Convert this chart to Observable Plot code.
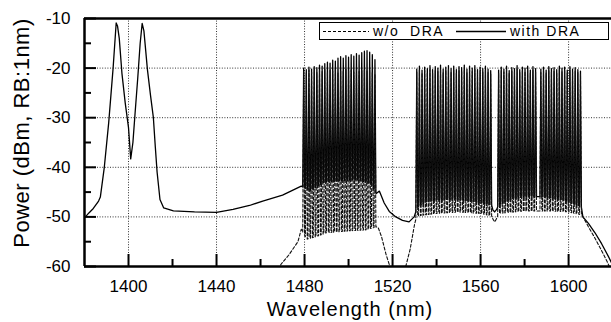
<!DOCTYPE html>
<html>
<head>
<meta charset="utf-8">
<script src="https://cdn.jsdelivr.net/npm/d3@7"></script>
<script src="https://cdn.jsdelivr.net/npm/@observablehq/plot@0.6"></script>
<style>
  body { margin: 0; background: #fff; }
  #wrap { position: relative; width: 611px; height: 322px; font-family: "Liberation Sans", Arial, sans-serif; color: #000; overflow: hidden; }
  #wrap > svg { position: absolute; left: 0; top: 0; }
  .ytitle { position: absolute; left: 22px; top: 133px; transform: translate(-50%, -50%) rotate(-90deg); font-size: 22px; letter-spacing: 0.5px; white-space: nowrap; }
  .xtitle { position: absolute; left: 350px; top: 309px; transform: translate(-50%, -50%); font-size: 20px; letter-spacing: 1px; white-space: nowrap; }
  .legend { position: absolute; left: 319px; top: 22px; width: 288px; height: 16px; border: 1.3px solid #000; background: #fff; font-size: 14px; }
  .legend .it { position: absolute; top: 0; line-height: 16px; letter-spacing: 1.5px; white-space: pre; }
  .legend svg { position: absolute; top: 7px; }
</style>
</head>
<body>
<div id="wrap"></div>
<script>
// ---------- data ----------
const xTicksMajor = [1400, 1440, 1480, 1520, 1560, 1600];
const xTicksMinor = [1420, 1460, 1500, 1540, 1580];
const yTicksMajor = [-10, -20, -30, -40, -50, -60];
const yTicksMinor = [-15, -25, -35, -45, -55];
const xGrid = [1400, 1440, 1480, 1520, 1560, 1600];
const yGrid = [-20, -30, -40, -50];

// "with DRA" trace between channels (pumps, floor)
const withNm = [1380, 1382, 1384, 1386.4, 1387.2, 1389, 1391, 1393, 1394.4, 1395, 1395.8, 1397, 1398.5, 1400, 1401, 1402, 1403, 1404.2, 1405.3, 1406.2, 1407, 1408.6, 1410, 1411.3, 1412.2, 1413, 1414.3, 1416, 1420.4, 1430, 1440, 1447.5, 1455, 1461, 1470, 1478.5,
  1482.5, 1489, 1496.5, 1504, 1510, 1512.6,
  1514, 1516.2, 1518.5, 1521.5, 1524.5, 1527.5, 1529.8,
  1531.3, 1535, 1540, 1548, 1556, 1565,
  1565.6, 1566.4, 1567.3,
  1568.2, 1574, 1582, 1590, 1598, 1605.8,
  1606.5, 1609, 1612, 1615, 1618, 1621];
const withDb = [-50.2, -49.2, -48.3, -46.8, -46, -40, -31, -20, -10.9, -11.5, -14, -21, -27, -32, -38.3, -35, -29, -22, -15, -11, -12.5, -20.3, -25.5, -30, -36, -41, -46.5, -48.2, -48.8, -49, -49.1, -48.5, -47.7, -46.8, -45.6, -43.8,
  -44.7, -43, -42.7, -42.5, -43.3, -45.3,
  -44.8, -47.2, -48.9, -50, -50.7, -51, -50,
  -48, -47, -46.6, -46.4, -46.8, -47.6,
  -48.6, -49, -48.5,
  -47.6, -46.4, -45.8, -46, -46.6, -48,
  -50, -51.3, -53.2, -55.4, -57.9, -60.6];

// "w/o DRA" trace between channels
const woNm = [1467, 1469.4, 1473, 1477, 1478.5,
  1481, 1485, 1490, 1500, 1508, 1512.6,
  1513.5, 1515, 1517, 1519, 1520.5, 1524.5, 1526, 1528, 1530,
  1531, 1540, 1550, 1560, 1565,
  1565.8, 1566.5, 1567.4,
  1568.2, 1580, 1592, 1600, 1605.8,
  1606.8, 1609, 1612, 1615, 1617.5, 1619.5];
const woDb = [-61.5, -59.5, -57.6, -55, -52.5,
  -54.5, -54, -53.2, -52.8, -52.6, -52,
  -52.2, -54, -57.5, -60.3, -62, -62, -60, -56.5, -51.5,
  -49.8, -49.3, -49, -49.3, -49.8,
  -50.6, -51, -50.2,
  -49.3, -48.8, -48.8, -49, -49.6,
  -50.2, -52, -54.3, -56.8, -59, -61];

// WDM channel centres (nm)
const chS = [1479.6, 1480.8, 1482.0, 1483.2, 1484.4, 1485.6, 1486.8, 1488.0, 1489.2, 1490.4, 1491.6, 1492.8, 1494.0, 1495.2, 1496.4, 1497.6, 1498.8, 1500.0, 1501.2, 1502.4, 1503.6, 1504.8, 1506.0, 1507.2, 1508.4, 1509.6, 1510.8, 1512.0];
const chC = [1531.0, 1532.2, 1533.4, 1534.6, 1535.8, 1537.0, 1538.2, 1539.4, 1540.6, 1541.8, 1543.0, 1544.2, 1545.4, 1546.6, 1547.8, 1549.0, 1550.2, 1551.4, 1552.6, 1553.8, 1555.0, 1556.2, 1557.4, 1558.6, 1559.8, 1561.0, 1562.2, 1563.4, 1564.6];
const chL = [1568.2, 1569.4, 1570.6, 1571.8, 1573.0, 1574.2, 1575.4, 1576.6, 1577.8, 1579.0, 1580.2, 1581.4, 1582.6, 1583.8, 1585.0, 1587.4, 1588.6, 1589.8, 1591.0, 1592.2, 1593.4, 1594.6, 1595.8, 1597.0, 1598.2, 1599.4, 1600.6, 1601.8, 1603.0, 1604.2, 1605.4];

// channel peak powers (dBm)
const pkWithS = [-20, -20.3, -19.8, -20.2, -19.7, -19.9, -19.4, -19.6, -19.1, -18.8, -19.0, -18.4, -18.6, -18.0, -17.7, -18.0, -17.5, -17.8, -17.3, -17.6, -17.1, -17.4, -16.9, -16.6, -16.5, -16.8, -17.3, -18.3];
const pkWoS   = [-20.6, -21, -20.4, -20.8, -20.3, -20.9, -20.5, -20.7, -20.2, -20.8, -20.4, -20.6, -20.3, -20.9, -20.5, -20.7, -20.2, -20.6, -20.4, -20.8, -20.3, -20.7, -20.5, -20.4, -20.6, -20.3, -20.8, -21.2];
const pkWithC = [-20.2, -19.6, -20.4, -19.8, -20.1, -19.5, -20.3, -19.7, -20.0, -19.4, -20.2, -19.8, -19.5, -20.1, -19.6, -20.3, -19.7, -19.9, -19.4, -20.2, -19.6, -20.0, -19.5, -20.3, -19.8, -20.1, -19.6, -20.2, -20.5];
const pkWoC   = [-20.8, -20.4, -21, -20.5, -20.9, -20.3, -21, -20.5, -20.7, -20.2, -20.9, -20.4, -20.3, -20.8, -20.4, -21, -20.5, -20.6, -20.2, -20.9, -20.4, -20.7, -20.3, -21, -20.5, -20.8, -20.4, -20.9, -21.2];
const pkWithL = [-20.4, -19.8, -20.2, -19.6, -20.5, -19.9, -20.1, -19.5, -20.3, -19.8, -20.0, -19.6, -20.4, -19.7, -20.1, -20.2, -19.8, -20.4, -19.7, -20.1, -19.9, -20.3, -19.6, -20.0, -19.8, -20.4, -19.7, -20.2, -19.9, -20.3, -20.6];
const pkWoL   = [-21, -20.5, -20.8, -20.3, -21, -20.6, -20.8, -20.2, -20.9, -20.5, -20.7, -20.3, -21, -20.4, -20.8, -20.9, -20.5, -21, -20.4, -20.8, -20.6, -20.9, -20.3, -20.7, -20.5, -21, -20.4, -20.8, -20.6, -20.9, -21.2];

// ---------- build traces ----------
function buildTrace(floorNm, floorDb, bands, hw) {
  const f = d3.scaleLinear().domain(floorNm).range(floorDb);
  const ranges = bands.map(b => [b.nm[0] - hw, b.nm[b.nm.length - 1] + hw]);
  const pts = [];
  floorNm.forEach((x, i) => {
    if (!ranges.some(([a, b]) => x >= a && x <= b)) pts.push({x, y: floorDb[i]});
  });
  bands.forEach(b => b.nm.forEach((c, i) => {
    pts.push({x: c - hw, y: f(c - hw)}, {x: c, y: b.pk[i]}, {x: c + hw, y: f(c + hw)});
  }));
  return pts.sort((a, b) => a.x - b.x);
}
const traceWith = buildTrace(withNm, withDb, [{nm: chS, pk: pkWithS}, {nm: chC, pk: pkWithC}, {nm: chL, pk: pkWithL}], 0.42);
const traceWo = buildTrace(woNm, woDb, [{nm: chS, pk: pkWoS}, {nm: chC, pk: pkWoC}, {nm: chL, pk: pkWoL}], 0.42);

const fmt = d => String(d);
const chart = Plot.plot({
  width: 611, height: 322,
  marginLeft: 84, marginRight: 0, marginTop: 18, marginBottom: 56,
  x: {domain: [1380, 1619.5], label: null},
  y: {domain: [-60, -10], label: null},
  style: {fontFamily: "'Liberation Sans', Arial, sans-serif", fontSize: "17px", color: "#000", background: "transparent"},
  marks: [
    Plot.gridX(xGrid, {stroke: "#333", strokeOpacity: 1, strokeWidth: 1, strokeDasharray: "1,1.6"}),
    Plot.gridY(yGrid, {stroke: "#333", strokeOpacity: 1, strokeWidth: 1, strokeDasharray: "1,1.6"}),
    Plot.line(traceWith, {x: "x", y: "y", stroke: "#000", strokeWidth: 1.3, clip: true}),
    Plot.line(traceWo, {x: "x", y: "y", stroke: "#111", strokeWidth: 1.1, strokeDasharray: "3,2", clip: true}),
    Plot.axisX(xTicksMajor, {tickSize: -12, strokeWidth: 2, tickFormat: () => ""}),
    Plot.axisX(xTicksMinor, {tickSize: -7, strokeWidth: 2, tickFormat: () => ""}),
    Plot.axisX(xTicksMajor, {tickSize: 0, tickPadding: 13, fontSize: 17, tickFormat: fmt}),
    Plot.axisY(yTicksMajor, {tickSize: -12, strokeWidth: 2, tickFormat: () => ""}),
    Plot.axisY(yTicksMinor, {tickSize: -7, strokeWidth: 2, tickFormat: () => ""}),
    Plot.axisY(yTicksMajor, {tickSize: 0, tickPadding: 14, fontSize: 17, tickFormat: fmt}),
    Plot.ruleX([1380], {strokeWidth: 2.5}),
    Plot.ruleY([-60, -10], {strokeWidth: 2.5})
  ]
});

const wrap = document.getElementById("wrap");
wrap.appendChild(chart);

const yt = document.createElement("div");
yt.className = "ytitle"; yt.textContent = "Power (dBm, RB:1nm)";
wrap.appendChild(yt);
const xt = document.createElement("div");
xt.className = "xtitle"; xt.textContent = "Wavelength (nm)";
wrap.appendChild(xt);

const lg = document.createElement("div");
lg.className = "legend";
lg.innerHTML =
  '<svg width="46" height="3" style="left:3px"><line x1="0" y1="1.5" x2="46" y2="1.5" stroke="#000" stroke-width="1.1" stroke-dasharray="3,2"/></svg>' +
  '<span class="it" style="left:53px">w/o  DRA</span>' +
  '<svg width="50" height="3" style="left:136px"><line x1="0" y1="1.5" x2="50" y2="1.5" stroke="#000" stroke-width="1.3"/></svg>' +
  '<span class="it" style="left:190px">with DRA</span>';
wrap.appendChild(lg);
</script>
</body>
</html>
